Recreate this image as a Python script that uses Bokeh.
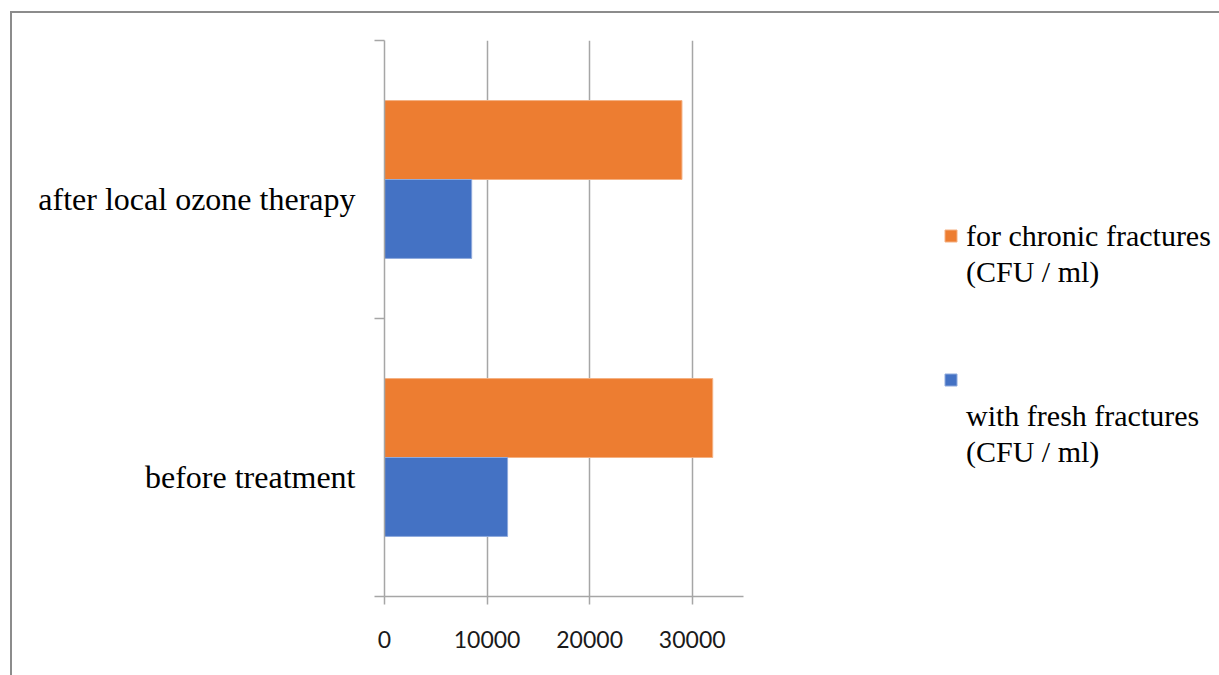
from bokeh.plotting import figure
from bokeh.models import (Range1d, FixedTicker, CustomJSTickFormatter, Legend, LegendItem,
                          ColumnDataSource)
from bokeh.embed import file_html
from bokeh.resources import INLINE

categories = ["before treatment", "after local ozone therapy"]
fresh = [12000, 8500]      # with fresh fractures (CFU / ml)
chronic = [32000, 29000]   # for chronic fractures (CFU / ml)
chronic_name = ["for chronic fractures", "(CFU / ml)"]
fresh_name = ["with fresh fractures", "(CFU / ml)"]
x_ticks = [0, 10000, 20000, 30000]

ORANGE = "#ED7D31"
BLUE = "#4472C4"
GREY = "#A6A6A6"

bar_h = 0.284
idx = list(range(len(categories)))
src = ColumnDataSource(dict(
    y_chronic=[i + 0.5 + bar_h / 2 for i in idx],
    y_fresh=[i + 0.5 - bar_h / 2 for i in idx],
    chronic=chronic, fresh=fresh,
))

p = figure(frame_width=359, frame_height=556, output_backend="svg", toolbar_location=None,
           x_range=Range1d(0, 35000), y_range=Range1d(0, len(categories)),
           min_border_left=372, min_border_top=27, min_border_right=478, min_border_bottom=81,
           styles={"margin-left": "10px", "margin-top": "11px",
                   "border-left": "2px solid #8C8C8C", "border-top": "2px solid #8C8C8C"})
p.outline_line_color = None
p.background_fill_color = "white"
p.border_fill_color = "white"

r_ch = p.hbar(y="y_chronic", right="chronic", left=0, height=bar_h, source=src,
              fill_color=ORANGE, line_color="#F4B183", line_width=1)
r_fr = p.hbar(y="y_fresh", right="fresh", left=0, height=bar_h, source=src,
              fill_color=BLUE, line_color="#8FAADC", line_width=1)
# empty, invisible renderer used for legend text-only lines
r_blank = p.hbar(y=[], right=[], left=0, height=bar_h, fill_alpha=0, line_alpha=0)

# x axis
xa = p.xaxis[0]
xa.ticker = FixedTicker(ticks=x_ticks, minor_ticks=[])
xa.axis_line_color = GREY
xa.axis_line_width = 1.5
xa.major_tick_line_color = GREY
xa.major_tick_line_width = 1.5
xa.major_tick_in = 0
xa.major_tick_out = 8
xa.minor_tick_line_color = None
xa.major_label_text_font = "Lato"
xa.major_label_text_font_size = "23px"
xa.major_label_text_color = "#1a1a1a"
xa.major_label_standoff = 26

# y axis: labels slightly below band centres, ticks at band boundaries
ya = p.yaxis[0]
ya.ticker = FixedTicker(ticks=[i + 0.43 for i in idx], minor_ticks=list(range(len(categories) + 1)))
ya.formatter = CustomJSTickFormatter(args=dict(labels=categories),
                                     code="return labels[Math.floor(tick)]")
ya.axis_line_color = GREY
ya.axis_line_width = 1.5
ya.major_tick_line_color = None
ya.minor_tick_line_color = GREY
ya.minor_tick_line_width = 1.5
ya.minor_tick_in = 0
ya.minor_tick_out = 10
ya.major_label_text_font = "Liberation Serif"
ya.major_label_text_font_size = "32px"
ya.major_label_text_color = "#000000"
ya.major_label_standoff = 19

p.ygrid.grid_line_color = None
p.xgrid.ticker = FixedTicker(ticks=x_ticks)
p.xgrid.grid_line_color = GREY
p.xgrid.grid_line_width = 1.5

items = [
    LegendItem(label=chronic_name[0], renderers=[r_ch]),
    LegendItem(label=chronic_name[1], renderers=[r_blank]),
    LegendItem(label=" ", renderers=[r_blank]),
    LegendItem(label=" ", renderers=[r_blank]),
    LegendItem(label=" ", renderers=[r_fr]),
    LegendItem(label=fresh_name[0], renderers=[r_blank]),
    LegendItem(label=fresh_name[1], renderers=[r_blank]),
]
legend = Legend(items=items, location=(200, 127), padding=0, margin=0, spacing=1,
                border_line_color=None, background_fill_alpha=0,
                glyph_width=15, glyph_height=15, label_standoff=8, label_height=35,
                label_text_font="Liberation Serif", label_text_font_size="30px",
                label_text_color="#000000")
p.add_layout(legend, "right")

open("out.html", "w").write(file_html(p, INLINE))
